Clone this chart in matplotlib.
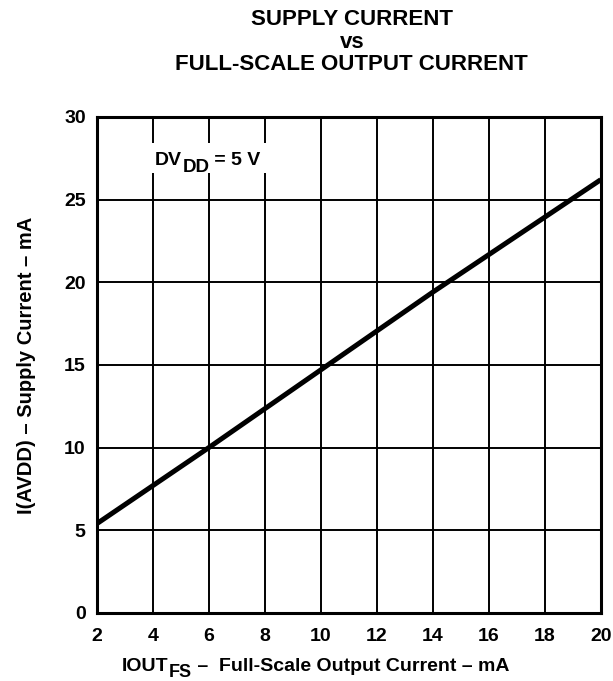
import numpy as np
import matplotlib
matplotlib.use('Agg')
from matplotlib import pyplot as plt
from matplotlib.patches import Rectangle

plt.rcParams['font.family'] = 'Liberation Sans'
plt.rcParams['font.weight'] = 'bold'

# data
iout = [2, 6, 10, 14, 20]
iavdd = [5.4, 10.0, 14.7, 19.4, 26.2]

xticks = list(range(2, 21, 2))
yticks = list(range(0, 31, 5))

fig = plt.figure(figsize=(6.13, 6.81), dpi=100)
ax = fig.add_axes([0.158, 0.0999, 0.822, 0.7285])

ax.plot(iout, iavdd, color='black', lw=3.6, solid_capstyle='butt', zorder=2)

ax.set_xlim(2, 20)
ax.set_ylim(0, 30)
ax.set_xticks(xticks)
ax.set_yticks(yticks)
ax.grid(True, color='black', lw=1.4)
ax.tick_params(length=0, labelsize=14)
ax.tick_params(axis='x', pad=11)
ax.tick_params(axis='y', pad=8)
for s in ax.spines.values():
    s.set_linewidth(2.2)

# white patch behind the condition note, breaks the grid lines
ax.add_patch(Rectangle((3.8, 26.6), 4.5, 1.8, facecolor='white',
                       edgecolor='none', zorder=2))
t1 = ax.text(4.08, 27.1, 'DV', fontsize=14, fontweight='bold',
             va='baseline', ha='left', zorder=3)
t2 = ax.annotate('DD', xy=(1, 0), xycoords=t1, xytext=(0.3, -5),
                 textcoords='offset points', fontsize=13.5, fontweight='bold',
                 va='bottom', ha='left', zorder=3)
ax.annotate(' = 5 V', xy=(1, 0), xycoords=t2, xytext=(0, 5),
            textcoords='offset points', fontsize=14, fontweight='bold',
            va='bottom', ha='left', zorder=3)

# x label built in pieces so the subscript is nearly full size
x1 = fig.text(0.199, 0.0145, 'IOUT', fontsize=14, fontweight='bold',
              va='baseline', ha='left')
x2 = plt.annotate('FS', xy=(1, 0), xycoords=x1, xytext=(0.3, -4),
                  textcoords='offset points', fontsize=13, fontweight='bold',
                  va='bottom', ha='left', annotation_clip=False)
plt.annotate(' –  Full-Scale Output Current – mA', xy=(1, 0), xycoords=x2,
             xytext=(0, 4), textcoords='offset points', fontsize=14,
             fontweight='bold', va='bottom', ha='left', annotation_clip=False)

ax.set_ylabel('I(AVDD) – Supply Current – mA', fontsize=14.5,
              fontweight='bold', labelpad=20)

fig.text(0.574, 0.971, 'SUPPLY CURRENT', ha='center', va='center',
         fontsize=16, fontweight='bold')
fig.text(0.574, 0.938, 'vs', ha='center', va='center',
         fontsize=16, fontweight='bold')
fig.text(0.574, 0.905, 'FULL-SCALE OUTPUT CURRENT', ha='center', va='center',
         fontsize=16, fontweight='bold')

plt.savefig('out.png', dpi=100)
